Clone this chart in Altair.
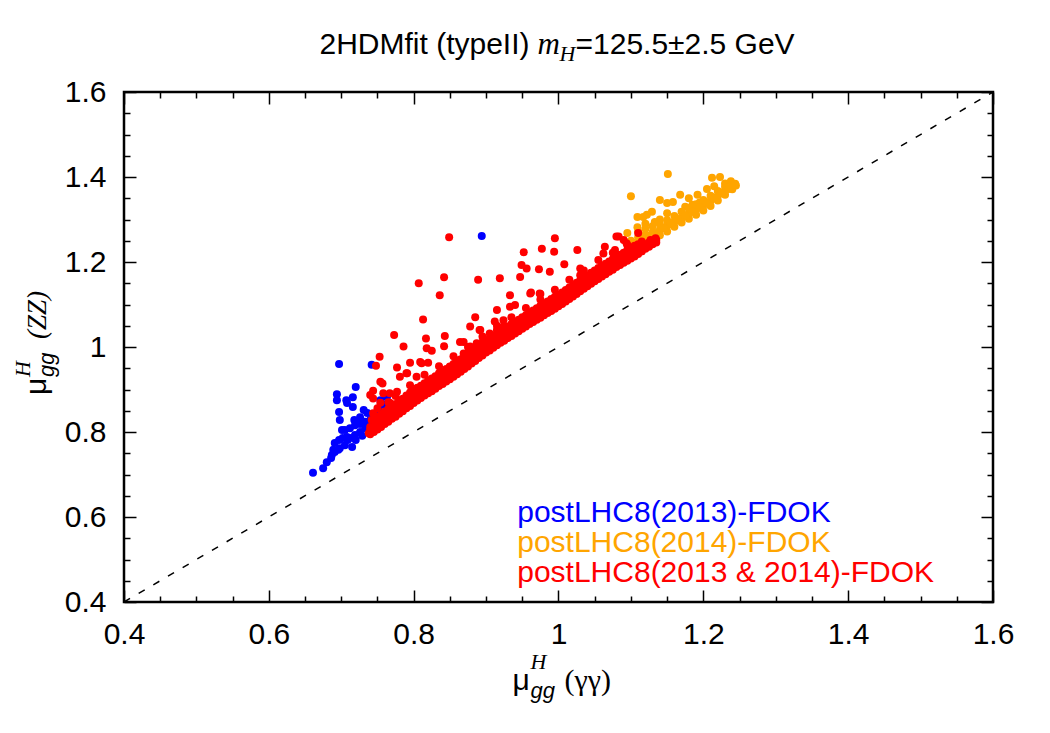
import altair as alt
import pandas as pd

# ---------------- data ----------------
series_names = ["postLHC8(2013)-FDOK", "postLHC8(2014)-FDOK", "postLHC8(2013 & 2014)-FDOK"]
series_colors = ["#0000ff", "#ffa500", "#ff0000"]

major_ticks = [0.4, 0.6, 0.8, 1.0, 1.2, 1.4, 1.6]
minor_ticks = [0.45, 0.5, 0.55, 0.65, 0.7, 0.75, 0.85, 0.9, 0.95,
               1.05, 1.1, 1.15, 1.25, 1.3, 1.35, 1.45, 1.5, 1.55]
diag = [0.4, 1.6]

title_parts = ["2HDMfit (typeII)", "m", "H", "=125.5±2.5 GeV"]
xlabel_parts = ["μ", "H", "gg", "(γγ)"]
ylabel_parts = ["μ", "H", "gg", "(ZZ)"]

blue_pts = [
    (0.661, 0.704), (0.675, 0.715), (0.680, 0.729), (0.686, 0.739), (0.687, 0.746),
    (0.689, 0.758), (0.691, 0.753), (0.696, 0.758), (0.698, 0.762), (0.691, 0.774),
    (0.697, 0.781), (0.702, 0.786), (0.705, 0.769), (0.708, 0.788), (0.709, 0.781),
    (0.712, 0.786), (0.715, 0.765), (0.719, 0.793), (0.720, 0.781), (0.726, 0.800),
    (0.729, 0.791), (0.701, 0.805), (0.705, 0.805), (0.712, 0.809), (0.719, 0.816),
    (0.726, 0.819), (0.733, 0.824), (0.740, 0.828), (0.733, 0.809), (0.737, 0.816),
    (0.740, 0.805), (0.747, 0.833), (0.698, 0.828), (0.697, 0.847), (0.694, 0.875),
    (0.694, 0.889), (0.707, 0.875), (0.708, 0.868), (0.716, 0.882), (0.720, 0.906),
    (0.716, 0.859), (0.718, 0.828), (0.726, 0.835), (0.731, 0.852), (0.736, 0.845),
    (0.744, 0.840), (0.751, 0.852), (0.754, 0.875), (0.758, 0.864), (0.763, 0.882),
    (0.697, 0.960), (0.742, 0.958), (0.894, 1.261),
]

orange_pts = [
    (1.151, 1.407), (1.212, 1.398), (1.223, 1.400), (1.244, 1.384), (1.168, 1.358),
    (1.180, 1.350), (1.192, 1.358), (1.140, 1.346), (1.150, 1.339), (1.158, 1.341),
    (1.129, 1.318), (1.117, 1.306), (1.133, 1.294), (1.150, 1.315), (1.109, 1.306),
    (1.122, 1.311), (1.109, 1.282), (1.095, 1.268), (1.100, 1.355), (1.205, 1.372),
    (1.215, 1.378), (1.230, 1.385), (1.238, 1.390), (1.175, 1.330), (1.185, 1.335),
    (1.195, 1.340), (1.120, 1.290), (1.140, 1.300),
    (1.100, 1.238), (1.100, 1.250),
    (1.110, 1.246), (1.110, 1.258), (1.110, 1.272),
    (1.120, 1.252), (1.120, 1.264), (1.120, 1.278),
    (1.130, 1.258), (1.130, 1.270), (1.130, 1.284),
    (1.140, 1.263), (1.140, 1.276), (1.140, 1.290),
    (1.150, 1.272), (1.150, 1.285), (1.150, 1.298),
    (1.160, 1.283), (1.160, 1.295), (1.160, 1.308),
    (1.170, 1.293), (1.170, 1.305), (1.170, 1.318),
    (1.180, 1.302), (1.180, 1.314), (1.180, 1.327),
    (1.190, 1.311), (1.190, 1.323), (1.190, 1.336),
    (1.200, 1.321), (1.200, 1.333), (1.200, 1.346),
    (1.210, 1.332), (1.210, 1.344), (1.210, 1.356),
    (1.220, 1.345), (1.220, 1.356), (1.220, 1.367),
    (1.230, 1.358), (1.230, 1.368), (1.230, 1.377),
    (1.240, 1.371), (1.240, 1.378), (1.245, 1.380),
    (1.105, 1.245), (1.115, 1.255), (1.125, 1.262), (1.135, 1.268), (1.145, 1.280),
    (1.155, 1.290), (1.165, 1.300), (1.175, 1.310), (1.185, 1.318), (1.195, 1.328),
    (1.205, 1.338), (1.215, 1.350), (1.225, 1.362), (1.235, 1.372), (1.243, 1.383),
]

red_pts = [
    # scattered points above the band
    (0.849, 1.258), (0.807, 1.150), (0.842, 1.164), (0.836, 1.122), (0.889, 1.158),
    (0.919, 1.162), (0.813, 1.065), (0.773, 1.028), (0.786, 1.001), (0.817, 1.020),
    (0.843, 1.026), (0.842, 1.002), (0.818, 0.997), (0.825, 0.991), (0.885, 1.070),
    (0.891, 1.040), (0.753, 0.977), (0.777, 0.952), (0.748, 0.956), (0.795, 0.963),
    (0.811, 0.962), (0.791, 0.938), (0.754, 0.918), (0.757, 0.914), (0.740, 0.887),
    (0.744, 0.897), (0.750, 0.856), (0.738, 0.797), (0.869, 1.012), (0.878, 1.048),
    (0.915, 1.087), (0.924, 1.063), (0.933, 1.122), (0.961, 1.126), (0.974, 1.126),
    (0.933, 1.095), (0.940, 1.099), (0.892, 1.040), (0.912, 1.060), (0.864, 1.012),
    (0.809, 0.965), (0.820, 0.963), (0.995, 1.256), (0.977, 1.231), (0.952, 1.223),
    (0.994, 1.224), (1.026, 1.228), (0.949, 1.193), (0.956, 1.185), (0.973, 1.183),
    (0.988, 1.177), (1.008, 1.195), (0.947, 1.165), (0.962, 1.128), (0.975, 1.125),
    (1.030, 1.185), (1.080, 1.260), (1.064, 1.236), (1.090, 1.252), (1.062, 1.220),
    (1.078, 1.228), (1.094, 1.244), (1.127, 1.252), (1.134, 1.256), (1.110, 1.268),
    (1.083, 1.260), (1.030, 1.169),
    (0.790, 0.938), (0.781, 0.930), (0.804, 0.930), (0.767, 0.891), (0.777, 0.895),
    (0.758, 0.891), (0.744, 0.879), (0.754, 0.869), (0.767, 0.869), (0.781, 0.875),
    (0.744, 0.844), (0.742, 0.828), (0.740, 0.812), (0.749, 0.828), (0.758, 0.836),
    (0.767, 0.848), (0.777, 0.860), (0.790, 0.871), (0.800, 0.891), (0.813, 0.903),
    (0.827, 0.915), (0.841, 0.930), (0.850, 0.954), (0.859, 0.969), (0.869, 0.985),
    (0.878, 1.001), (0.887, 1.009), (0.896, 1.020), (0.905, 1.032), (0.915, 1.040),
    (0.924, 1.048), (0.878, 0.969),
    # dense band
    (0.745, 0.800), (0.745, 0.812), (0.745, 0.830),
    (0.755, 0.812), (0.755, 0.826), (0.755, 0.842),
    (0.765, 0.824), (0.765, 0.838), (0.765, 0.855), (0.765, 0.870),
    (0.775, 0.836), (0.775, 0.850), (0.775, 0.866), (0.775, 0.885),
    (0.785, 0.849), (0.785, 0.862), (0.785, 0.878),
    (0.795, 0.861), (0.795, 0.876), (0.795, 0.893), (0.795, 0.910),
    (0.805, 0.874), (0.805, 0.888), (0.805, 0.904),
    (0.815, 0.886), (0.815, 0.899), (0.815, 0.915), (0.815, 0.935),
    (0.825, 0.896), (0.825, 0.910), (0.825, 0.926),
    (0.835, 0.908), (0.835, 0.921), (0.835, 0.938), (0.835, 0.955),
    (0.845, 0.919), (0.845, 0.932), (0.845, 0.948),
    (0.855, 0.930), (0.855, 0.944), (0.855, 0.960), (0.855, 0.978),
    (0.865, 0.942), (0.865, 0.955), (0.865, 0.971),
    (0.875, 0.954), (0.875, 0.968), (0.875, 0.984), (0.875, 1.000),
    (0.885, 0.967), (0.885, 0.980), (0.885, 0.996),
    (0.895, 0.980), (0.895, 0.993), (0.895, 1.010), (0.895, 1.025),
    (0.905, 0.992), (0.905, 1.005), (0.905, 1.020),
    (0.915, 1.004), (0.915, 1.017), (0.915, 1.032), (0.915, 1.050),
    (0.925, 1.015), (0.925, 1.028), (0.925, 1.042),
    (0.935, 1.026), (0.935, 1.039), (0.935, 1.054), (0.935, 1.070),
    (0.945, 1.037), (0.945, 1.050), (0.945, 1.064),
    (0.955, 1.048), (0.955, 1.061), (0.955, 1.075), (0.955, 1.092),
    (0.965, 1.059), (0.965, 1.072), (0.965, 1.086),
    (0.975, 1.069), (0.975, 1.082), (0.975, 1.097), (0.975, 1.112),
    (0.985, 1.080), (0.985, 1.093), (0.985, 1.107),
    (0.995, 1.090), (0.995, 1.104), (0.995, 1.118), (0.995, 1.135),
    (1.005, 1.101), (1.005, 1.115), (1.005, 1.128),
    (1.015, 1.113), (1.015, 1.126), (1.015, 1.140), (1.015, 1.158),
    (1.025, 1.125), (1.025, 1.138), (1.025, 1.151),
    (1.035, 1.137), (1.035, 1.150), (1.035, 1.163), (1.035, 1.180),
    (1.045, 1.149), (1.045, 1.161), (1.045, 1.175),
    (1.055, 1.160), (1.055, 1.172), (1.055, 1.186), (1.055, 1.205),
    (1.065, 1.171), (1.065, 1.183), (1.065, 1.196),
    (1.075, 1.182), (1.075, 1.194), (1.075, 1.207), (1.075, 1.222),
    (1.085, 1.193), (1.085, 1.204), (1.085, 1.217),
    (1.095, 1.203), (1.095, 1.214), (1.095, 1.228), (1.095, 1.240),
    (1.105, 1.213), (1.105, 1.225), (1.105, 1.238),
    (1.115, 1.225), (1.115, 1.237), (1.115, 1.248),
    (1.125, 1.236), (1.125, 1.246),
    (1.135, 1.246), (1.135, 1.252),
    (0.740, 0.795), (0.740, 0.805),
    (0.750, 0.806), (0.750, 0.820), (0.750, 0.836),
    (0.760, 0.819), (0.760, 0.832), (0.760, 0.848),
    (0.770, 0.831), (0.770, 0.845), (0.770, 0.860),
    (0.780, 0.843), (0.780, 0.857), (0.780, 0.872),
    (0.790, 0.856), (0.790, 0.870), (0.790, 0.886),
    (0.800, 0.868), (0.800, 0.882), (0.800, 0.898),
    (0.810, 0.880), (0.810, 0.893), (0.810, 0.909),
    (0.820, 0.891), (0.820, 0.905), (0.820, 0.921),
    (0.830, 0.902), (0.830, 0.916), (0.830, 0.931),
    (0.840, 0.913), (0.840, 0.927), (0.840, 0.943),
    (0.850, 0.924), (0.850, 0.938), (0.850, 0.953),
    (0.860, 0.936), (0.860, 0.950), (0.860, 0.965),
    (0.870, 0.948), (0.870, 0.962), (0.870, 0.977),
    (0.880, 0.961), (0.880, 0.974), (0.880, 0.990),
    (0.890, 0.974), (0.890, 0.987), (0.890, 1.002),
    (0.900, 0.987), (0.900, 0.999), (0.900, 1.014),
    (0.910, 0.998), (0.910, 1.011), (0.910, 1.026),
    (0.920, 1.010), (0.920, 1.022), (0.920, 1.037),
    (0.930, 1.021), (0.930, 1.034), (0.930, 1.048),
    (0.940, 1.032), (0.940, 1.045), (0.940, 1.059),
    (0.950, 1.043), (0.950, 1.056), (0.950, 1.070),
    (0.960, 1.054), (0.960, 1.067), (0.960, 1.081),
    (0.970, 1.064), (0.970, 1.077), (0.970, 1.091),
    (0.980, 1.075), (0.980, 1.088), (0.980, 1.102),
    (0.990, 1.085), (0.990, 1.098), (0.990, 1.113),
    (1.000, 1.096), (1.000, 1.109), (1.000, 1.123),
    (1.010, 1.107), (1.010, 1.120), (1.010, 1.134),
    (1.020, 1.119), (1.020, 1.132), (1.020, 1.145),
    (1.030, 1.131), (1.030, 1.144), (1.030, 1.157),
    (1.040, 1.143), (1.040, 1.155), (1.040, 1.168),
    (1.050, 1.155), (1.050, 1.166), (1.050, 1.180),
    (1.060, 1.166), (1.060, 1.177), (1.060, 1.191),
    (1.070, 1.177), (1.070, 1.188), (1.070, 1.201),
    (1.080, 1.188), (1.080, 1.199), (1.080, 1.212),
    (1.090, 1.198), (1.090, 1.209), (1.090, 1.222),
    (1.100, 1.208), (1.100, 1.220), (1.100, 1.232),
    (1.110, 1.219), (1.110, 1.231), (1.110, 1.242),
    (1.120, 1.231), (1.120, 1.242),
    (1.130, 1.242), (1.130, 1.250),
]

# ---------------- build tables ----------------
rows = []
for name, pts in zip(series_names, [blue_pts, orange_pts, red_pts]):
    for x, y in pts:
        rows.append({"x": x, "y": y, "series": name})
points_df = pd.DataFrame(rows)
diag_df = pd.DataFrame({"v": diag})
one_df = pd.DataFrame({"v": [1]})

SANS = "Liberation Sans"
SERIF = "Liberation Serif"

xs = alt.Scale(domain=[0.4, 1.6], nice=False, zero=False)
ys = alt.Scale(domain=[0.4, 1.6], nice=False, zero=False)


def label_axis(orient, pad):
    return alt.Axis(orient=orient, values=major_ticks, format="~g", ticks=False, tickSize=0,
                    domain=False, grid=False, labelFontSize=30, labelFont=SANS,
                    labelColor="black", labelPadding=pad, labelFlush=False,
                    labelOverlap=False, title=None)


def tick_axis(orient, values, size):
    return alt.Axis(orient=orient, values=values, labels=False, ticks=True, tickSize=size,
                    offset=-size, tickColor="black", tickWidth=1.5, domain=False,
                    grid=False, title=None)


points = alt.Chart(points_df).mark_circle(size=64, opacity=1).encode(
    x=alt.X("x:Q", scale=xs, axis=label_axis("bottom", 17)),
    y=alt.Y("y:Q", scale=ys, axis=label_axis("left", 18)),
    color=alt.Color("series:N", scale=alt.Scale(domain=series_names, range=series_colors),
                    legend=None),
)

diag_line = alt.Chart(diag_df).mark_line(color="black", strokeDash=[7, 10],
                                          strokeWidth=1.5).encode(
    x=alt.X("v:Q", scale=xs, axis=tick_axis("bottom", major_ticks, 12)),
    y=alt.Y("v:Q", scale=ys, axis=tick_axis("left", major_ticks, 12)),
)


def tick_layer(xo, yo, values, size):
    return alt.Chart(diag_df).mark_line(opacity=0).encode(
        x=alt.X("v:Q", scale=xs, axis=tick_axis(xo, values, size)),
        y=alt.Y("v:Q", scale=ys, axis=tick_axis(yo, values, size)),
    )


def piece(txt, xd, yd, dx, dy, size, font=SANS, style="normal", align="left",
          angle=0, color="black"):
    return alt.Chart(one_df).mark_text(
        text=txt, align=align, baseline="alphabetic", dx=dx, dy=dy, fontSize=size,
        font=font, fontStyle=style, angle=angle, color=color,
    ).encode(
        x=alt.XDatum(xd, type="quantitative", scale=xs, axis=None),
        y=alt.YDatum(yd, type="quantitative", scale=ys, axis=None),
    )


layers = [
    points,
    diag_line,
    tick_layer("bottom", "left", minor_ticks, 6),
    tick_layer("top", "right", major_ticks, 12),
    tick_layer("top", "right", minor_ticks, 6),
    # legend texts
    piece(series_names[0], 0.943, 0.589, 0, 0, 30, color=series_colors[0]),
    piece(series_names[1], 0.943, 0.518, 0, 0, 30, color=series_colors[1]),
    piece(series_names[2], 0.943, 0.448, 0, 0, 30, color=series_colors[2]),
    # title
    piece(title_parts[0], 1.0, 1.6, -29, -38, 30, align="right"),
    piece(title_parts[1], 1.0, 1.6, -21, -38, 31, font=SERIF, style="italic"),
    piece(title_parts[2], 1.0, 1.6, 1, -31, 22, font=SERIF, style="italic"),
    piece(title_parts[3], 1.0, 1.6, 17, -38, 30),
    # x axis title
    piece(xlabel_parts[0], 1.0, 0.4, -46, 88, 30),
    piece(xlabel_parts[1], 1.0, 0.4, -28, 67, 22, font=SERIF, style="italic"),
    piece(xlabel_parts[2], 1.0, 0.4, -28, 96, 22, style="italic"),
    piece(xlabel_parts[3], 1.0, 0.4, 6, 88, 30, font=SERIF),
    # y axis title (rotated)
    piece(ylabel_parts[0], 0.4, 1.0, -48, -78, 30, angle=270),
    piece(ylabel_parts[1], 0.4, 1.0, -30, -94, 22, font=SERIF, style="italic", angle=270),
    piece(ylabel_parts[2], 0.4, 1.0, -30, -70, 22, style="italic", angle=270),
    piece(ylabel_parts[3], 0.4, 1.0, 8, -78, 27, font=SERIF, style="italic", angle=270),
]

chart = alt.layer(*layers).resolve_axis(
    x="independent", y="independent"
).properties(
    width=869, height=510,
    autosize=alt.AutoSizeParams(type="none"),
    padding={"left": 116, "top": 84, "right": 40, "bottom": 120},
    background="white",
).configure_view(stroke="black", strokeWidth=2.5)

chart.save("out.html", embed_options={"renderer": "svg", "actions": False})
